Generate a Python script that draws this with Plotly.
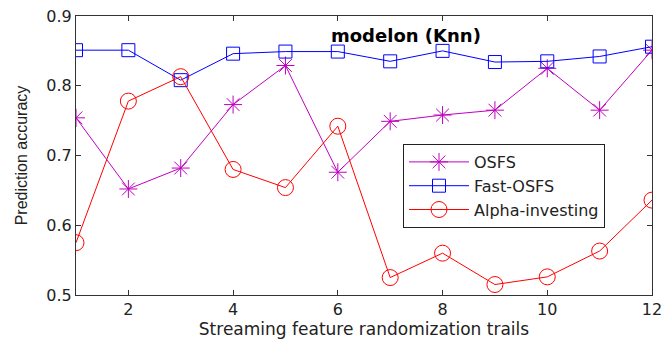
import plotly.graph_objects as go

trials = list(range(1, 13))
osfs = [0.754, 0.652, 0.682, 0.773, 0.829, 0.676, 0.749, 0.758, 0.765, 0.825, 0.765, 0.851]
fast_osfs = [0.851, 0.851, 0.808, 0.846, 0.849, 0.849, 0.835, 0.850, 0.834, 0.835, 0.842, 0.856]
alpha_investing = [0.575, 0.778, 0.813, 0.680, 0.654, 0.742, 0.525, 0.560, 0.515, 0.526, 0.563, 0.636]

font = "DejaVu Sans, sans-serif"
font2 = "Liberation Sans, Arial, sans-serif"
txt = "#222222"

fig = go.Figure()
fig.add_trace(go.Scatter(x=trials, y=osfs, name="OSFS", mode="lines+markers",
                         line=dict(color="#c000c0", width=1),
                         marker=dict(symbol="asterisk-open", size=15,
                                     line=dict(color="#c000c0", width=1))))
fig.add_trace(go.Scatter(x=trials, y=fast_osfs, name="Fast-OSFS", mode="lines+markers",
                         line=dict(color="#0000ff", width=1),
                         marker=dict(symbol="square-open", size=13,
                                     line=dict(color="#0000ff", width=1))))
fig.add_trace(go.Scatter(x=trials, y=alpha_investing, name="Alpha-investing", mode="lines+markers",
                         line=dict(color="#ff0000", width=1),
                         marker=dict(symbol="circle-open", size=16,
                                     line=dict(color="#ff0000", width=1))))

fig.add_annotation(text="<b>modelon (Knn)</b>", x=(406 - 76) / 576, y=0.872, xref="paper", yref="y",
                   showarrow=False, font=dict(family=font, size=18, color="black"))

axis_common = dict(showgrid=False, zeroline=False, showline=True, linecolor="#333333",
                   linewidth=1, mirror="ticks", ticks="inside", ticklen=5, automargin=False,
                   ticklabeloverflow="allow",
                   tickcolor="#333333", tickfont=dict(family=font, size=16, color=txt))

fig.update_xaxes(range=[1, 12], tickvals=[2, 4, 6, 8, 10, 12],
                 title=dict(text="Streaming feature randomization trails",
                            font=dict(family=font, size=17, color=txt), standoff=3),
                 **axis_common)
fig.update_yaxes(range=[0.5, 0.9], tickvals=[0.5, 0.6, 0.7, 0.8, 0.9],
                 tickformat=".1f",
                 title=dict(text="Prediction accuracy",
                            font=dict(family=font2, size=16, color=txt), standoff=14),
                 **axis_common)

fig.update_layout(
    width=662, height=339,
    margin=dict(l=76, r=10, t=16, b=44),
    plot_bgcolor="white", paper_bgcolor="white",
    showlegend=True,
    legend=dict(x=(403 - 76) / 576, y=(295 - 144) / 279, xanchor="left", yanchor="top",
                bordercolor="#222222", borderwidth=1, bgcolor="white",
                font=dict(family=font, size=16, color=txt),
                tracegroupgap=0, itemwidth=60),
)

fig.write_html("out.html")
